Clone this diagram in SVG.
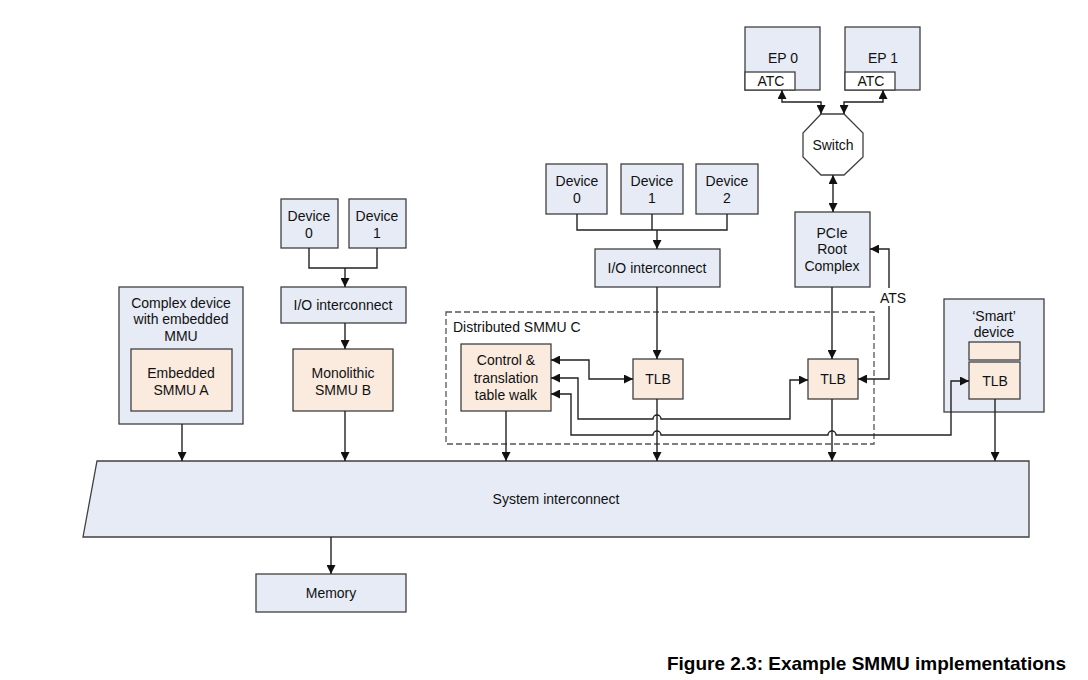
<svg xmlns="http://www.w3.org/2000/svg" width="1088" height="680" viewBox="0 0 1088 680">
<defs>
<style>
text{font-family:"Liberation Sans",Arial,sans-serif;font-size:14px;fill:#111;text-anchor:middle}
.b{fill:#E6EBF6;stroke:#404040;stroke-width:1.3}
.p{fill:#FBEBDF;stroke:#404040;stroke-width:1.3}
.c{fill:none;stroke:#222;stroke-width:1.4}
.a{marker-end:url(#ah)}
.d{marker-start:url(#ah);marker-end:url(#ah)}
.cap{font-weight:bold;font-size:19px;text-anchor:end;fill:#000}
</style>
<marker id="ah" viewBox="0 0 10 10" refX="10" refY="5" markerWidth="9" markerHeight="9" markerUnits="userSpaceOnUse" orient="auto-start-reverse">
<path d="M0,0 L10,5 L0,10 z" fill="#111"/>
</marker>
</defs>
<rect width="1088" height="680" fill="#fff"/>

<g id="sysint"><polygon class="b" points="97,461 1029,461 1029,537 83,537"/><text x="556" y="504">System interconnect</text></g>
<g id="memory"><rect class="b" x="256" y="574" width="150" height="38"/><text x="331" y="598">Memory</text></g>

<g id="complex"><rect class="b" x="119" y="287" width="124" height="137"/><text x="181" y="308">Complex device</text><text x="181" y="324">with embedded</text><text x="181" y="341">MMU</text></g>
<g id="smmuA"><rect class="p" x="131" y="349" width="101" height="62"/><text x="181" y="378">Embedded</text><text x="181" y="395">SMMU A</text></g>

<g id="ldev0"><rect class="b" x="281" y="199" width="57" height="49"/><text x="309" y="221">Device</text><text x="309" y="238">0</text></g>
<g id="ldev1"><rect class="b" x="349" y="199" width="57" height="49"/><text x="377" y="221">Device</text><text x="377" y="238">1</text></g>
<g id="lio"><rect class="b" x="281" y="287" width="125" height="36"/><text x="343" y="310">I/O interconnect</text></g>
<g id="smmuB"><rect class="p" x="293" y="349" width="100" height="62"/><text x="343" y="378">Monolithic</text><text x="343" y="395">SMMU B</text></g>

<g id="mdev0"><rect class="b" x="546" y="164" width="61" height="50"/><text x="577" y="186">Device</text><text x="577" y="203">0</text></g>
<g id="mdev1"><rect class="b" x="621" y="164" width="62" height="50"/><text x="652" y="186">Device</text><text x="652" y="203">1</text></g>
<g id="mdev2"><rect class="b" x="696" y="164" width="62" height="50"/><text x="727" y="186">Device</text><text x="727" y="203">2</text></g>
<g id="mio"><rect class="b" x="595" y="249" width="125" height="38"/><text x="657" y="273">I/O interconnect</text></g>

<g id="smmuC"><rect x="446" y="312" width="428" height="132" fill="none" stroke="#555" stroke-width="1.3" stroke-dasharray="6,3"/><text x="453" y="332" style="text-anchor:start">Distributed SMMU C</text></g>
<g id="ctrl"><rect class="p" x="461" y="344" width="90" height="67"/><text x="506" y="365">Control &amp;</text><text x="506" y="383">translation</text><text x="506" y="400">table walk</text></g>
<g id="tlb1"><rect class="p" x="633" y="359" width="50" height="40"/><text x="658" y="384">TLB</text></g>
<g id="tlb2"><rect class="p" x="808" y="359" width="50" height="40"/><text x="833" y="384">TLB</text></g>

<g id="pcie"><rect class="b" x="795" y="212" width="75" height="75"/><text x="832" y="238">PCIe</text><text x="832" y="254">Root</text><text x="832" y="271">Complex</text></g>
<g id="switch"><polygon fill="#fff" stroke="#404040" stroke-width="1.3" points="821,114 844,114 863,133 863,157 844,175 821,175 803,157 803,133"/><text x="833" y="150">Switch</text></g>
<g id="ep0"><rect class="b" x="745" y="27" width="75" height="63"/><text x="783" y="63">EP 0</text><rect fill="#fff" stroke="#404040" stroke-width="1.3" x="745" y="72" width="50" height="18"/><text x="771" y="86">ATC</text></g>
<g id="ep1"><rect class="b" x="845" y="27" width="75" height="63"/><text x="883" y="63">EP 1</text><rect fill="#fff" stroke="#404040" stroke-width="1.3" x="845" y="72" width="50" height="18"/><text x="871" y="86">ATC</text></g>

<g id="smart"><rect class="b" x="944" y="299" width="100" height="113"/><text x="994" y="321">‘Smart’</text><text x="994" y="337">device</text><rect class="p" x="969" y="342" width="51" height="18"/><rect class="p" x="969" y="362" width="51" height="37"/><text x="995" y="386">TLB</text></g>

<g id="connectors">
<path class="c a" d="M182,424 V461"/>
<path class="c" d="M309,248 V268 H377 V248"/>
<path class="c a" d="M345,268 V287"/>
<path class="c a" d="M345,323 V349"/>
<path class="c a" d="M345,411 V461"/>
<path class="c a" d="M331,537 V574"/>
<path class="c" d="M577,214 V230 H727 V214 M652,214 V230"/>
<path class="c a" d="M657,230 V249"/>
<path class="c a" d="M657,287 V359"/>
<path class="c a" d="M657,399 V461"/>
<path class="c a" d="M506,411 V461"/>
<path class="c d" d="M551,360 H589 V379 H633"/>
<path class="c d" d="M551,378 H578 V419 H653 a4,4 0 0 1 8,0 H790 V380 H808"/>
<path class="c d" d="M551,394 H571 V435 H653 a4,4 0 0 1 8,0 H828 a4,4 0 0 1 8,0 H951 V381 H969"/>
<path class="c a" d="M832,287 V359"/>
<path class="c a" d="M832,399 V461"/>
<path class="c d" d="M858,379 H889 V249 H870"/>
<path class="c a" d="M995,399 V461"/>
<path class="c d" d="M833,175 V212"/>
<path class="c d" d="M782,90 V102 H821 V114"/>
<path class="c d" d="M883,90 V102 H844 V114"/>
<rect x="877" y="288" width="30" height="18" fill="#fff"/>
<text x="893" y="303">ATS</text>
</g>

<text class="cap" x="1066" y="670">Figure 2.3: Example SMMU implementations</text>
</svg>
